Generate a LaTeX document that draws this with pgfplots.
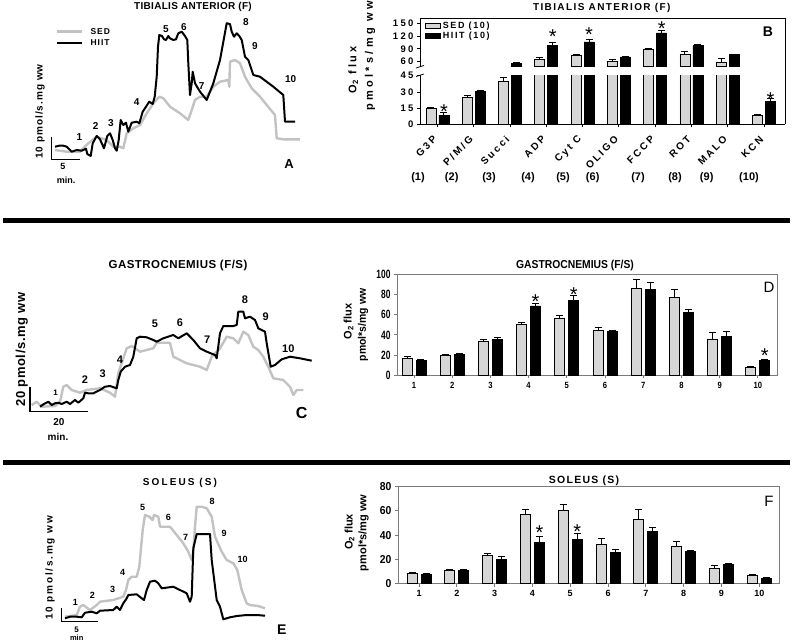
\documentclass[border=0pt]{standalone}
\usepackage{fontspec}
\setmainfont{Liberation Sans}
\usepackage{pgfplots}
\pgfplotsset{compat=1.18}
\usepackage{pgfplotstable}
\definecolor{sedgray}{HTML}{D6D6D6}
\definecolor{sedline}{HTML}{C2C2C2}
\definecolor{framegray}{HTML}{7A7A7A}
\newcommand{\fs}[1]{\fontsize{#1}{#1}\selectfont}
\newcommand{\LS}[1]{\addfontfeatures{LetterSpace=#1}}
\newcommand{\ST}[1]{\addfontfeatures{FakeStretch=#1}}

% Panel B: tibialis anterior
\pgfplotstableread{
x sed sedE hiit hiitE
0 15 1 8.5 2.5
1 24.5 2.5 30.5 1
2 39.5 4 56 1.5
3 65 5 98 6
4 75 3 106 6
5 60 5 71 2
6 88.5 3 127 5
7 78 7 97 2
8 59 8 76 2
9 8.5 1 21 2.5
}\tabB
% Panel D: gastrocnemius
\pgfplotstableread{
x sed sedE hiit hiitE
1 17 1.5 15 1
2 20 1 20.5 1
3 34 2 35.5 2
4 50 2 68.5 2.5
5 56 3 74 5
6 44.5 3 43 1
7 86 8.5 85 6.5
8 76.5 8.5 62 3
9 36 6.5 38.5 5
10 8 1 14.5 1.5
}\tabD
% Panel F: soleus
\pgfplotstableread{
x sed sedE hiit hiitE
1 8.5 0.7 7.5 0.5
2 11 1 10.8 0.5
3 23.5 1 20 2.5
4 57 4.5 34 4.5
5 60 5 36.5 5
6 32.5 4.5 26 2.5
7 53 8.5 43 3.5
8 31 4 26.5 1
9 12.3 2.7 16 0.7
10 6.5 1 4.5 0.7
}\tabF

\pgfplotsset{
  barax/.style={scale only axis, tick align=outside, major tick length=3pt,
    /pgf/number format/assume math mode=true, clip=true, enlargelimits=false},
  sedb/.style={ybar, bar width=10pt, fill=sedgray, draw=black, line width=0.8pt},
  hiitb/.style={ybar, bar width=10pt, fill=black, draw=black, line width=0.8pt},
  errp/.style={draw=none, forget plot,
    error bars/y dir=plus, error bars/y explicit,
    error bars/error bar style={draw=black, line width=0.9pt, solid},
    error bars/error mark options={draw=black, line width=0.9pt, mark size=3.5pt, solid, rotate=90}},
  starp/.style={draw=none, mark=none, forget plot, nodes near coords, point meta=explicit symbolic,
    every node near coord/.append style={anchor=center, text=black, font=\fs{20}, yshift=-4.3pt, inner sep=0pt}},
  sedtr/.style={sedline, line width=2.4pt, line join=round, mark=none},
  hiittr/.style={black, line width=2pt, line join=round, mark=none},
}

\begin{document}
\begin{tikzpicture}
% ================= overlay: traces and annotations =================
\begin{axis}[at={(0pt,0pt)}, anchor=south west, width=802pt, height=642pt, scale only axis,
  xmin=0, xmax=802, ymin=0, ymax=642, y dir=reverse, hide axis, clip=false]
% separators
\draw[line width=5pt] (axis cs:3,220) -- (axis cs:790,220);
\draw[line width=5pt] (axis cs:3,462.7) -- (axis cs:790,462.7);

% ---------- Panel A ----------
\addplot[sedtr] coordinates {(55,150) (66.7,151.7) (80,151.7) (88.3,143.3) (96.7,136.7) (106.7,140) (113.3,146.7) (120,146.7) (123.3,148.3) (126.7,133.3) (133.3,128.3) (140,125) (146.7,113.3) (153.3,103.3) (159.3,96.7) (163.3,98.3) (170,106.7) (180,113.3) (188.3,120) (191.7,110) (195,100) (200,96.7) (206.7,96.7) (213.3,86.7) (220,81.7) (228.3,80) (229.3,86.7) (230,61.7) (235,60) (240,63.3) (245,76.7) (251.7,88.3) (260,96.7) (266.7,105) (275,115) (276.7,138.3) (283.3,139.3) (300,139.3)};
\addplot[hiittr] coordinates {(55,146.7) (60,145.5) (63.3,145.7) (66.7,146.7) (71.7,151.7) (76.7,150) (81.7,150.7) (86,148.7) (87.3,154) (90.7,156) (92.7,143.3) (96.7,136) (100,139.3) (104,148.3) (107.3,136) (110,133.3) (112.7,140) (115,148.3) (116.7,150.7) (118.7,140) (120.7,120) (123.3,125) (126,122.7) (128.3,131.7) (131.7,122.7) (136.7,121.7) (139.3,123.3) (142.7,111.7) (146,106.7) (149.3,101.7) (152.7,104) (154.7,96.7) (156.7,76.7) (158,46.7) (159.3,35) (162,36) (164,39.3) (166,40) (168.3,36) (170,38.3) (173.3,40) (176,39.3) (178.3,33.3) (181.7,31.7) (185,36) (187.3,40) (188.3,63.3) (190,95) (191.7,83.3) (192.7,71.7) (195,83.3) (200,91.7) (206.7,100) (213.3,83.3) (220,60) (226.7,23.3) (230,24) (231.7,31.7) (234,36.7) (236.7,33.3) (239.3,36) (241.7,40) (245,56.7) (248.3,60) (253.3,75) (260,76.7) (273.3,86.7) (283.3,95) (285,121.7) (295,121.7)};
\node[font=\bfseries\fs{10}\LS{3}] at (axis cs:193,7) {TIBIALIS ANTERIOR (F)};
\draw[sedline, line width=2.4pt] (axis cs:57,31.7) -- (axis cs:82,31.7);
\draw[black, line width=2pt] (axis cs:57,42.7) -- (axis cs:82,42.7);
\node[anchor=west, font=\bfseries\fs{8.5}\LS{12}] at (axis cs:87,32) {SED};
\node[anchor=west, font=\bfseries\fs{8.5}\LS{12}] at (axis cs:87,43) {HIIT};
\node[rotate=90, font=\bfseries\fs{10}\LS{10}] at (axis cs:40,111.5) {10 pmol/s.mg ww};
\draw[line width=1.5pt] (axis cs:51.7,136.7) -- (axis cs:51.7,159.3) -- (axis cs:80,159.3);
\node[font=\bfseries\fs{9}] at (axis cs:63,166) {5};
\node[font=\bfseries\fs{9}] at (axis cs:66,180) {min.};
\node[font=\bfseries\fs{13}] at (axis cs:289,164) {A};
\begin{scope}[every node/.style={font=\bfseries\fs{10}}]
\node at (axis cs:79.3,136.7) {1};
\node at (axis cs:95.7,126) {2};
\node at (axis cs:111,122.7) {3};
\node at (axis cs:136.7,101.7) {4};
\node at (axis cs:166,29.3) {5};
\node at (axis cs:184,27.3) {6};
\node at (axis cs:201.7,86) {7};
\node at (axis cs:246,21.7) {8};
\node at (axis cs:255,46) {9};
\node at (axis cs:290.7,79.3) {10};
\end{scope}

% ---------- Panel B annotations ----------
\node[font=\bfseries\fs{10}\LS{14}] at (axis cs:601.7,7.5) {TIBIALIS ANTERIOR (F)};
\node[font=\bfseries\fs{14}] at (axis cs:768,32) {B};
\node[rotate=90, font=\bfseries\fs{11}\LS{25}] at (axis cs:353.3,70) {O\textsubscript{2} flux};
\node[rotate=90, font=\bfseries\fs{11}\LS{30}] at (axis cs:370,56) {pmol*s/mg ww};
\draw[line width=1pt] (axis cs:420,18.3) -- (axis cs:785,18.3) -- (axis cs:785,124.3);
\draw[line width=0.8pt] (axis cs:416,68) -- (axis cs:424,65.5);
\draw[line width=0.8pt] (axis cs:416,76.5) -- (axis cs:424,74);
\begin{scope}[every node/.style={font=\bfseries\fs{11}}]
\node at (axis cs:418,178) {(1)};
\node at (axis cs:451.7,178) {(2)};
\node at (axis cs:489,178) {(3)};
\node at (axis cs:528,178) {(4)};
\node at (axis cs:563,178) {(5)};
\node at (axis cs:592.7,178) {(6)};
\node at (axis cs:638,178) {(7)};
\node at (axis cs:675,178) {(8)};
\node at (axis cs:706.7,178) {(9)};
\node at (axis cs:749,178) {(10)};
\end{scope}

% ---------- Panel C ----------
\addplot[sedtr] coordinates {(31.7,405) (36.7,401.7) (41.7,406.7) (55,406) (60,402) (63.3,386.7) (66.7,385) (71.7,390) (80,392.7) (86.7,390) (100,388.3) (110,392.7) (115,396.7) (118.3,373.3) (126.7,348.3) (131.7,346) (140,351.7) (146.7,350) (153.3,348.3) (156.7,342.7) (170,342.7) (173.3,356.7) (186.7,363.3) (200,366.7) (206.7,370) (211.7,356.7) (220,348.3) (226.7,336.7) (233.3,338.3) (238.3,343.3) (243.3,331.7) (248.3,335) (253.3,346.7) (258.3,350) (263.3,356.7) (268.3,366.7) (273.3,378.3) (283.3,380) (290,386.7) (293.3,395) (296.7,390) (303.3,390)};
\addplot[hiittr] coordinates {(40,406.7) (44,404) (48.3,401.7) (51.7,405) (55,403.3) (58.3,402.7) (61.7,404) (66.7,401.7) (70,404) (75,400) (78.3,402.7) (83.3,398.3) (85,392.7) (88.3,393.3) (93.3,393.3) (100,390) (105,386.7) (110,386) (116.7,388.3) (118.3,380) (120.7,371.7) (125,366.7) (130,365) (133.3,356.7) (136.7,338.3) (140,336.7) (146.7,337.3) (153.3,340) (156.7,341.7) (163.3,338.3) (173.3,335) (178.3,338.3) (186.7,333.3) (193.3,340) (200,348.3) (206.7,351.7) (215,355) (216.7,358.3) (220,333.3) (223.3,326) (233.3,326) (236.7,325) (238.3,311.7) (243.3,311.7) (245,318.3) (250,316.7) (255,320) (258.3,328.3) (265,331.7) (266.7,343.3) (270.7,366.7) (275,365) (281.7,359.3) (290,356.7) (300,358.3) (311.7,360.7)};
\node[font=\bfseries\fs{11.5}\LS{4}] at (axis cs:178,266) {GASTROCNEMIUS (F/S)};
\node[rotate=90, font=\bfseries\fs{13}\LS{5}] at (axis cs:21.7,349.5) {20 pmol/s.mg ww};
\draw[line width=1.5pt] (axis cs:30,386.7) -- (axis cs:30,411.7) -- (axis cs:88.3,411.7);
\node[font=\bfseries\fs{10}] at (axis cs:59,421.7) {20};
\node[font=\bfseries\fs{10}] at (axis cs:58,436.7) {min.};
\node[font=\bfseries\fs{16}] at (axis cs:301.7,413.3) {C};
\node[font=\bfseries\fs{8}] at (axis cs:55.7,392.7) {1};
\begin{scope}[every node/.style={font=\bfseries\fs{11}}]
\node at (axis cs:85,380) {2};
\node at (axis cs:102.7,373.3) {3};
\node at (axis cs:120,360) {4};
\node at (axis cs:155,324) {5};
\node at (axis cs:180,322.7) {6};
\node at (axis cs:207.3,340) {7};
\node at (axis cs:245,300) {8};
\node at (axis cs:265.7,316.7) {9};
\node at (axis cs:288.3,348.3) {10};
\end{scope}

% ---------- Panel D annotations ----------
\node[font=\bfseries\fs{11.5}\ST{0.9}] at (axis cs:575,265.7) {GASTROCNEMIUS (F/S)};
\node[font=\fs{15}] at (axis cs:769,287) {D};
\node[rotate=90, font=\bfseries\fs{11}] at (axis cs:348.5,321.5) {O\textsubscript{2} flux};
\node[rotate=90, font=\bfseries\fs{11}\ST{0.95}] at (axis cs:363,325) {pmol*s/mg ww};

% ---------- Panel E ----------
\addplot[sedtr] coordinates {(65,616.7) (76.7,615) (80,606.7) (83.3,605) (90,610) (96.7,605) (100,601.7) (113.3,600) (123.3,596.7) (126,590) (128.3,580) (131.7,576.7) (136.7,576.7) (139.3,566.7) (142.7,530) (145,515) (149.3,516.7) (152.7,520) (154,515) (158.3,516.7) (160,526.7) (170,526.7) (176.7,535) (183.3,543.3) (188.3,551.7) (191.7,560) (193.3,551.7) (195,526.7) (196.7,506.7) (201.7,506.7) (206.7,508.3) (211.7,516.7) (215,536.7) (221.7,551.7) (226.7,560) (233.3,563.3) (237.3,570) (241.7,590) (246.7,603.3) (250,605) (258.3,606) (265,608.3)};
\addplot[hiittr] coordinates {(65,618.3) (70,616.7) (76.7,616.7) (81.7,617.3) (85,612.7) (91.7,611.7) (96.7,613.3) (100,610.7) (113.3,610) (116.7,606.7) (120,610) (123.3,603.3) (126.7,598.3) (128.3,595) (136.7,594.3) (141.7,598.3) (144,600) (146.7,590) (150,581.7) (155,580.7) (158.3,583.3) (161.7,588.3) (173.3,586.7) (180,590) (186.7,593.3) (190,601.7) (191.7,596.7) (193.3,548.3) (196.7,534) (210,534) (211.7,560) (216.7,600) (220,606.7) (223.3,619.3) (230,617.3) (236.7,616) (246.7,615) (256.7,615) (265,615.7)};
\node[font=\bfseries\fs{10}\LS{21}] at (axis cs:180,483.3) {SOLEUS (S)};
\node[rotate=90, font=\bfseries\fs{10}\LS{18}] at (axis cs:50,568) {10 pmol/s.mg ww};
\draw[line width=1.5pt] (axis cs:61.7,608) -- (axis cs:61.7,621.7) -- (axis cs:98.3,621.7);
\node[font=\bfseries\fs{8}] at (axis cs:76.7,629.3) {5};
\node[font=\bfseries\fs{7.5}, inner sep=0.5pt] at (axis cs:76.7,638) {min};
\node[font=\bfseries\fs{14}] at (axis cs:281.7,629.3) {E};
\begin{scope}[every node/.style={font=\bfseries\fs{9}}]
\node at (axis cs:75.3,602.7) {1};
\node at (axis cs:92.3,595) {2};
\node at (axis cs:112.7,589.3) {3};
\node at (axis cs:122.7,572.3) {4};
\node at (axis cs:142.7,507.3) {5};
\node at (axis cs:168.3,517.3) {6};
\node at (axis cs:185.7,537.3) {7};
\node at (axis cs:212,501.7) {8};
\node at (axis cs:224,533.3) {9};
\node at (axis cs:242.7,559.3) {10};
\end{scope}

% ---------- Panel F annotations ----------
\node[font=\bfseries\fs{10.5}\LS{12}] at (axis cs:584,481) {SOLEUS (S)};
\node[font=\fs{15}] at (axis cs:769,501.7) {F};
\node[rotate=90, font=\bfseries\fs{11}] at (axis cs:349.5,532) {O\textsubscript{2} flux};
\node[rotate=90, font=\bfseries\fs{11}] at (axis cs:363.5,533) {pmol*s/mg ww};
\end{axis}

% ================= Panel B lower part =================
\begin{axis}[barax, at={(420pt,517.7pt)}, anchor=south west, width=365pt, height=49.1pt,
  xmin=-0.48, xmax=9.58, ymin=0, ymax=45.5,
  axis x line*=bottom, axis y line*=left, axis line style={line width=1pt},
  tick style={line width=0.8pt, black},
  xtick={0,...,9}, xticklabels={G3P,P/M/G,Succi,ADP,Cyt C,OLIGO,FCCP,ROT,MALO,KCN},
  xticklabel shift=8pt,
  xticklabel style={rotate=45, anchor=east, font=\bfseries\fs{10}\LS{22}},
  ytick={0,15,30,45}, yticklabels={0,15,30,45},
  yticklabel style={font=\bfseries\fs{9.5}\LS{25}}]
\addplot[bar shift=-6.5pt, sedb] table[x=x, y=sed] {\tabB};
\addplot[bar shift=6.5pt, hiitb] table[x=x, y=hiit] {\tabB};
\addplot[errp] table[x expr=\thisrow{x}-0.179, y=sed, y error=sedE] {\tabB};
\addplot[errp] table[x expr=\thisrow{x}+0.179, y=hiit, y error=hiitE] {\tabB};
\addplot[starp] coordinates {(0.18,15.9) [*] (9.18,26.4) [*]};
\end{axis}

% ================= Panel B upper part =================
\begin{axis}[barax, at={(420pt,575.3pt)}, anchor=south west, width=365pt, height=48.4pt,
  xmin=-0.48, xmax=9.58, ymin=48.4, ymax=161,
  restrict y to domain=48.4:200,
  axis x line*=top, axis y line*=left, axis line style={line width=1pt},
  tick style={line width=0.8pt, black},
  xtick=\empty,
  ytick={60,90,120,150}, yticklabels={60,90,120,150},
  yticklabel style={font=\bfseries\fs{9.5}\LS{25}},
  legend style={at={(rel axis cs:0.01,0.99)}, anchor=north west, draw=none, fill=none,
    font=\bfseries\fs{9}\LS{18}, row sep=-2pt, inner sep=1pt},
  legend cell align=left,
  legend image code/.code={\draw[#1, line width=1pt] (0pt,-2.8pt) rectangle (15pt,2.8pt);}]
\addplot[bar shift=-6.5pt, sedb] table[x=x, y=sed] {\tabB};
\addlegendentry{SED (10)}
\addplot[bar shift=6.5pt, hiitb] table[x=x, y=hiit] {\tabB};
\addlegendentry{HIIT (10)}
\addplot[errp] table[x expr=\thisrow{x}-0.179, y=sed, y error=sedE] {\tabB};
\addplot[errp] table[x expr=\thisrow{x}+0.179, y=hiit, y error=hiitE] {\tabB};
\addplot[starp] coordinates {(3.18,128) [*] (4.18,132) [*] (6.18,147.7) [*]};
\end{axis}

% ================= Panel D =================
\begin{axis}[barax, at={(397pt,266.5pt)}, anchor=south west, width=380.7pt, height=101.5pt,
  xmin=0.555, xmax=10.52, ymin=0, ymax=100,
  axis line style={framegray, line width=0.9pt}, tick style={framegray, line width=0.8pt},
  xtick pos=left, ytick pos=left,
  xtick={1,...,10}, ytick={0,20,...,100},
  xticklabel style={font=\bfseries\fs{9}\ST{0.85}},
  yticklabel style={font=\bfseries\fs{12}\ST{0.7}}]
\addplot[bar shift=-7pt, sedb] table[x=x, y=sed] {\tabD};
\addplot[bar shift=7pt, hiitb] table[x=x, y=hiit] {\tabD};
\addplot[errp] table[x expr=\thisrow{x}-0.183, y=sed, y error=sedE] {\tabD};
\addplot[errp] table[x expr=\thisrow{x}+0.183, y=hiit, y error=hiitE] {\tabD};
\addplot[starp] coordinates {(4.18,77.1) [*] (5.18,84.4) [*] (10.18,23.4) [*]};
\end{axis}

% ================= Panel F =================
\begin{axis}[barax, at={(398pt,58.5pt)}, anchor=south west, width=381.3pt, height=96.8pt,
  xmin=0.444, xmax=10.53, ymin=0, ymax=80,
  axis line style={framegray, line width=0.9pt}, tick style={framegray, line width=0.8pt},
  xtick pos=left, ytick pos=left,
  xtick={1,...,10}, ytick={0,20,...,80},
  xticklabel style={font=\bfseries\fs{9}},
  yticklabel style={font=\bfseries\fs{11.5}\ST{0.9}}]
\addplot[bar shift=-7pt, sedb] table[x=x, y=sed] {\tabF};
\addplot[bar shift=7pt, hiitb] table[x=x, y=hiit] {\tabF};
\addplot[errp] table[x expr=\thisrow{x}-0.185, y=sed, y error=sedE] {\tabF};
\addplot[errp] table[x expr=\thisrow{x}+0.185, y=hiit, y error=hiitE] {\tabF};
\addplot[starp] coordinates {(4.185,45.8) [*] (5.185,46.6) [*]};
\end{axis}

\pgfresetboundingbox
\path[use as bounding box] (0pt,0pt) rectangle (802pt,642pt);
\end{tikzpicture}
\end{document}
